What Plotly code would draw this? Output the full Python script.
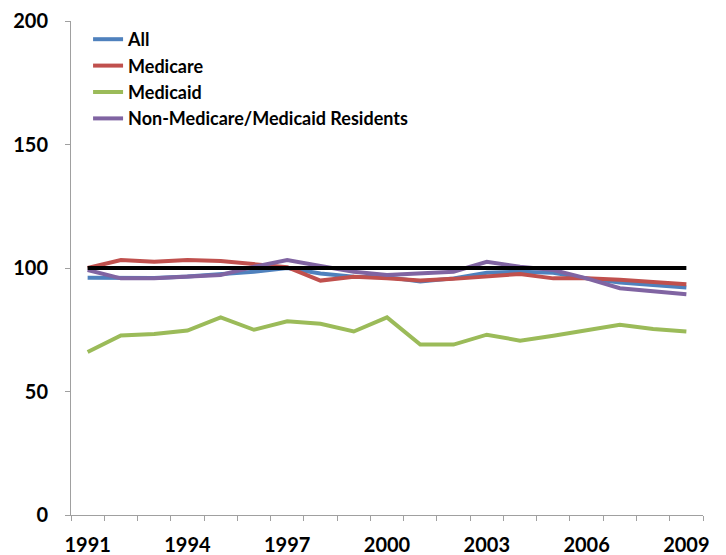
import plotly.graph_objects as go

years = list(range(1991, 2010))

all_res = [96.1, 96.1, 96.0, 96.6, 97.4, 98.5, 100.0, 97.8, 96.5, 96.3,
           94.5, 95.8, 98.1, 98.5, 98.1, 95.8, 94.1, 93.1, 92.1]
medicare = [100.0, 103.2, 102.5, 103.2, 102.8, 101.6, 100.3, 94.9, 96.5, 95.8,
            94.9, 95.6, 96.8, 97.6, 95.8, 95.8, 95.2, 94.5, 93.4]
medicaid = [66.0, 72.7, 73.3, 74.7, 80.0, 75.0, 78.4, 77.4, 74.3, 80.0,
            69.0, 69.0, 73.0, 70.6, 72.6, 75.0, 77.0, 75.3, 74.3]
non_mm = [99.2, 95.8, 95.8, 96.5, 97.2, 100.5, 103.2, 100.8, 98.5, 97.2,
          97.8, 98.5, 102.5, 100.5, 99.2, 95.8, 91.8, 90.5, 89.4]
baseline = [100] * len(years)

tick_years = [1991, 1994, 1997, 2000, 2003, 2006, 2009]

series = [
    ("All", all_res, "#4F81BD"),
    ("Medicare", medicare, "#C0504D"),
    ("Medicaid", medicaid, "#9BBB59"),
    ("Non-Medicare/Medicaid Residents", non_mm, "#8064A2"),
]

fig = go.Figure()
for name, vals, col in series:
    fig.add_trace(go.Scatter(x=years, y=vals, name=name, mode="lines",
                             line=dict(color=col, width=4)))
fig.add_trace(go.Scatter(x=years, y=baseline, mode="lines", showlegend=False,
                         line=dict(color="black", width=4)))

axis_font = dict(family="Lato", size=20, color="black", weight="bold")
legend_font = dict(family="Lato", size=18, color="black", weight="bold")
# page body keeps its default 8px margin, so the figure is 8px smaller
fig.update_layout(
    width=718, height=547,
    margin=dict(l=63, r=23, t=13, b=40),
    plot_bgcolor="white", paper_bgcolor="white",
    font=axis_font,
    legend=dict(x=0.027, y=1.0, xanchor="left", yanchor="top",
                bgcolor="rgba(0,0,0,0)", font=legend_font, tracegroupgap=0,
                itemwidth=30),
)
fig.update_xaxes(
    range=[1990.5, 2009.5], tickvals=tick_years, ticks="", showgrid=False,
    showline=True, linecolor="#A0A0A0", linewidth=1, tickfont=axis_font,
    ticklabelstandoff=12, automargin=False,
    minor=dict(tick0=1990.5, dtick=1, ticks="outside", ticklen=5,
               tickcolor="#A0A0A0", showgrid=False),
)
fig.update_yaxes(
    range=[0, 200], dtick=50, ticks="outside", ticklen=5, tickcolor="#A0A0A0",
    showgrid=False, showline=True, linecolor="#A0A0A0", linewidth=1,
    tickfont=axis_font, zeroline=False, ticklabelstandoff=13, automargin=False,
)

fig.write_html("out.html")
